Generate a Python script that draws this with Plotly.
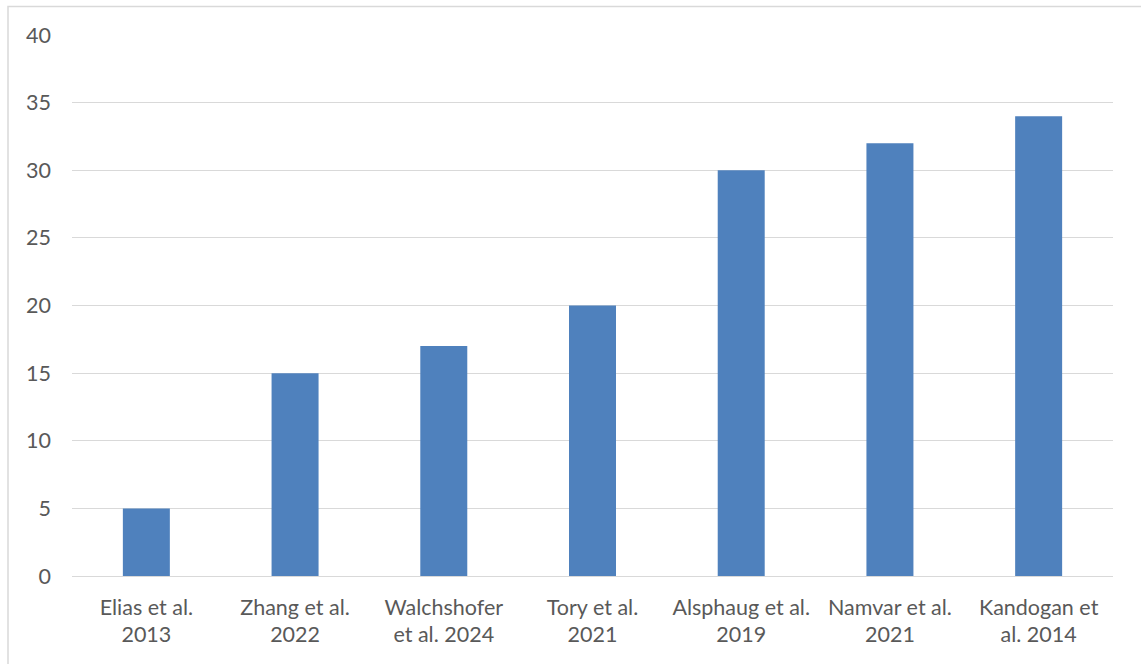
import plotly.graph_objects as go

categories = ["Elias et al.<br>2013", "Zhang et al.<br>2022", "Walchshofer<br>et al. 2024",
              "Tory et al.<br>2021", "Alsphaug et al.<br>2019", "Namvar et al.<br>2021",
              "Kandogan et<br>al. 2014"]
values = [5, 15, 17, 20, 30, 32, 34]
y_ticks = [0, 5, 10, 15, 20, 25, 30, 35, 40]

W, H = 1141, 664
L, R, T, B = 72, 28, 35, 88

fig = go.Figure(go.Bar(x=categories, y=values, marker=dict(color="#4F81BD", line=dict(width=0))))

fig.update_layout(
    width=W, height=H,
    margin=dict(l=L, r=R, t=T, b=B),
    paper_bgcolor="white", plot_bgcolor="white",
    bargap=0.684,
    showlegend=False,
    font=dict(family="Lato, Carlito, sans-serif", size=21.5, color="#595959"),
    xaxis=dict(showgrid=False, showline=False, ticks="", ticklabelstandoff=16, tickangle=0,
               range=[-0.5, 6.5]),
    yaxis=dict(range=[0, 40], tickvals=y_ticks, showgrid=True, gridcolor="#D9D9D9", gridwidth=1.3,
               zeroline=True, zerolinecolor="#D9D9D9", zerolinewidth=1.3, showline=False, ticks="",
               ticklabelstandoff=20),
    shapes=[dict(type="rect", xref="paper", yref="paper",
                 x0=(8 - L) / (W - L - R), x1=(W + 5 - L) / (W - L - R),
                 y0=-(B + 5) / (H - T - B), y1=1 + (T - 6.5) / (H - T - B),
                 line=dict(color="#D9D9D9", width=1.5), layer="below")],
)

fig.write_html("out.html")
